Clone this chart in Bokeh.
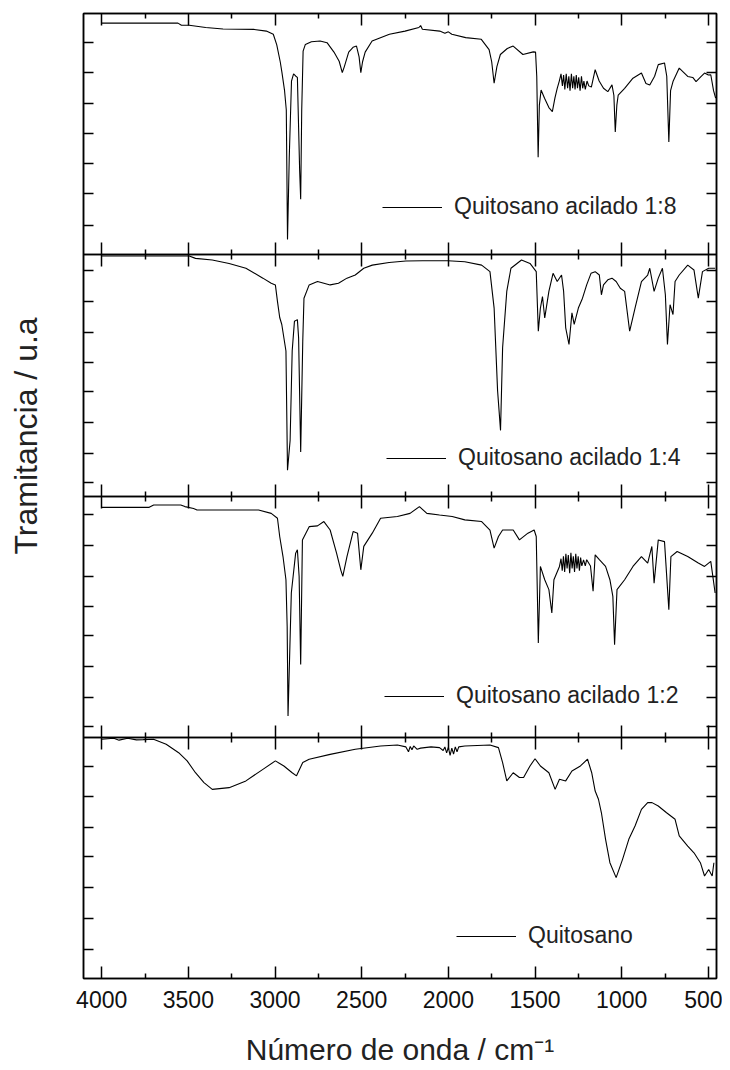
import numpy as np
from bokeh.plotting import figure
from bokeh.models import Range1d, LinearAxis, FixedTicker, Legend, LegendItem
from bokeh.embed import file_html
from bokeh.resources import INLINE

# ---------------- data (wavenumber cm-1, transmittance in % of panel) -------------
labels = ["Quitosano acilado 1:8", "Quitosano acilado 1:4",
          "Quitosano acilado 1:2", "Quitosano"]

x18 = [4000, 3560, 3540, 3495, 3400, 3300, 3120, 3050, 3010, 2990, 2970, 2960, 2945, 2935, 2928,
       2918, 2905, 2893, 2880, 2871, 2858, 2852, 2846, 2838, 2825, 2790, 2740, 2700, 2660, 2630,
       2612, 2600, 2575, 2550, 2530, 2515, 2505, 2495, 2480, 2440, 2340, 2250, 2170, 2160, 2150,
       2050, 2020, 2000, 1980, 1900, 1810, 1765, 1750, 1736, 1720, 1700, 1660, 1626, 1570, 1510,
       1497, 1490, 1482, 1475, 1465, 1445, 1420, 1400, 1385, 1372, 1360, 1350, 1342, 1335, 1328,
       1320, 1312, 1305, 1298, 1290, 1283, 1276, 1269, 1262, 1255, 1248, 1240, 1232, 1225, 1218,
       1210, 1200, 1190, 1175, 1153, 1130, 1105, 1080, 1056, 1045, 1037, 1028, 1020, 983, 935,
       886, 860, 838, 810, 789, 753, 740, 728, 718, 704, 668, 619, 590, 571, 540, 522, 500, 486,
       470, 458]
y18 = [96.0, 96.0, 95.1, 95.1, 94.2, 93.6, 93.4, 92.7, 91.4, 87.0, 80.0, 75.5, 68.0, 60.0, 6.3,
       40.0, 72.0, 75.0, 74.0, 73.5, 35.0, 23.0, 60.0, 84.4, 87.2, 88.3, 88.6, 87.9, 84.0, 80.2,
       75.5, 78.0, 84.0, 86.0, 86.5, 82.0, 75.5, 80.0, 84.0, 88.6, 91.4, 92.7, 94.2, 95.0, 93.5,
       92.7, 91.8, 92.4, 91.4, 90.0, 89.3, 85.0, 80.0, 71.1, 78.0, 83.0, 85.5, 86.5, 83.0, 84.1,
       84.0, 74.0, 40.4, 62.0, 68.3, 64.9, 61.0, 59.3, 65.0, 69.0, 72.0, 75.0, 70.0, 74.5, 68.5,
       75.0, 69.0, 74.0, 68.0, 75.0, 69.0, 74.0, 68.5, 74.5, 69.0, 73.5, 68.0, 74.0, 69.0, 72.0,
       68.5, 72.0, 70.0, 69.5, 76.7, 72.0, 69.0, 67.6, 70.4, 66.0, 50.9, 62.0, 66.2, 69.0, 73.2,
       75.3, 71.0, 70.4, 74.0, 78.8, 79.5, 74.0, 46.7, 68.0, 71.8, 77.4, 73.9, 73.5, 71.8, 74.0,
       75.3, 74.5, 74.6, 68.0, 64.9]

x14 = [4000, 3495, 3459, 3362, 3265, 3168, 3070, 3022, 2998, 2986, 2973, 2961, 2937, 2928, 2913,
       2901, 2888, 2871, 2864, 2852, 2840, 2833, 2803, 2755, 2718, 2682, 2634, 2585, 2537, 2488,
       2439, 2342, 2245, 2148, 2003, 1905, 1808, 1760, 1736, 1716, 1699, 1687, 1663, 1639, 1578,
       1529, 1493, 1481, 1469, 1457, 1444, 1420, 1396, 1372, 1347, 1335, 1323, 1304, 1287, 1274,
       1250, 1226, 1202, 1177, 1153, 1129, 1117, 1105, 1080, 1056, 1032, 1008, 983, 954, 923,
       886, 850, 838, 813, 789, 765, 748, 736, 721, 704, 692, 668, 619, 583, 558, 534, 498, 461]
y14 = [99.5, 99.5, 98.5, 97.8, 96.4, 94.4, 90.3, 88.2, 87.5, 80.7, 74.0, 71.1, 60.1, 10.7, 23.0,
       60.1, 72.4, 73.1, 65.6, 18.2, 64.2, 82.0, 87.5, 88.9, 88.2, 87.5, 88.2, 90.3, 91.6, 94.4,
       95.7, 96.8, 97.4, 97.5, 97.5, 97.1, 95.7, 93.0, 77.9, 43.6, 27.2, 61.5, 84.8, 94.4, 97.8,
       96.4, 93.0, 68.3, 77.9, 82.7, 73.8, 84.8, 92.3, 88.9, 91.6, 84.8, 69.7, 62.8, 75.9, 71.1,
       77.9, 82.0, 87.5, 92.3, 93.0, 91.6, 83.4, 87.5, 89.6, 90.3, 88.9, 86.1, 84.8, 68.3, 77.9,
       88.9, 91.6, 94.4, 84.8, 90.3, 94.4, 83.4, 62.8, 79.3, 75.2, 88.9, 91.6, 95.7, 93.7, 82.0,
       93.0, 94.4, 94.4]

x12 = [4000, 3726, 3700, 3544, 3520, 3470, 3450, 3095, 3022, 2986, 2973, 2954, 2937, 2930, 2925,
       2906, 2881, 2871, 2861, 2852, 2842, 2803, 2755, 2718, 2682, 2645, 2621, 2609, 2585, 2549,
       2524, 2505, 2488, 2439, 2391, 2294, 2221, 2167, 2124, 2051, 1978, 1905, 1808, 1760, 1736,
       1711, 1687, 1626, 1590, 1541, 1505, 1493, 1481, 1469, 1444, 1420, 1403, 1391, 1359, 1350,
       1343, 1336, 1329, 1322, 1315, 1308, 1300, 1293, 1286, 1279, 1272, 1265, 1258, 1251, 1244,
       1237, 1230, 1220, 1210, 1202, 1180, 1165, 1153, 1129, 1093, 1068, 1051, 1041, 1027, 983,
       935, 886, 850, 826, 813, 789, 753, 728, 716, 680, 619, 558, 522, 486, 461]
y12 = [95.3, 95.3, 96.3, 96.3, 95.6, 94.8, 94.2, 94.2, 92.8, 90.8, 83.2, 74.9, 65.3, 46.0, 8.8,
       59.8, 76.3, 77.7, 66.7, 30.2, 81.8, 87.3, 87.6, 89.4, 85.9, 76.3, 69.4, 66.7, 74.9, 85.3,
       84.6, 69.4, 79.1, 84.6, 90.8, 91.5, 92.8, 95.6, 92.8, 92.1, 91.5, 90.1, 89.4, 85.9, 78.4,
       83.2, 85.9, 85.9, 81.8, 84.6, 85.9, 83.2, 39.1, 70.8, 65.3, 61.2, 51.5, 65.3, 70.8, 74.0,
       69.0, 75.0, 68.5, 76.0, 70.0, 75.5, 68.0, 76.5, 70.0, 75.0, 68.5, 76.0, 70.0, 75.0, 69.0,
       74.5, 71.0, 73.5, 71.0, 73.6, 71.0, 60.5, 75.6, 73.6, 70.8, 65.3, 58.4, 38.4, 61.2, 65.3,
       70.8, 74.9, 72.2, 79.1, 63.9, 81.8, 81.1, 52.9, 74.9, 77.0, 74.9, 72.2, 70.8, 72.9, 59.8]

x0 = [4000, 3930, 3900, 3850, 3800, 3760, 3701, 3628, 3556, 3507, 3459, 3410, 3362, 3265, 3168,
      3070, 2998, 2949, 2901, 2876, 2840, 2803, 2682, 2537, 2391, 2294, 2245, 2230, 2220, 2210,
      2200, 2180, 2160, 2100, 2051, 2030, 2020, 2010, 2000, 1990, 1980, 1970, 1960, 1950, 1940,
      1905, 1760, 1711, 1687, 1663, 1626, 1590, 1566, 1529, 1500, 1469, 1420, 1384, 1359, 1323,
      1287, 1238, 1197, 1173, 1153, 1134, 1117, 1093, 1068, 1032, 995, 959, 923, 886, 850, 825,
      789, 741, 692, 668, 619, 583, 546, 522, 498, 478, 468]
y0 = [99.2, 99.6, 98.8, 99.6, 98.9, 99.0, 99.2, 97.1, 93.6, 90.2, 85.3, 81.2, 78.4, 79.1, 81.9,
      86.7, 90.2, 88.1, 85.3, 84.0, 89.5, 90.9, 92.9, 95.0, 96.4, 96.8, 96.0, 94.0, 96.2, 94.8,
      96.4, 95.0, 95.5, 96.0, 95.7, 94.5, 96.0, 93.5, 95.8, 92.5, 95.5, 93.0, 96.0, 94.0, 96.0,
      96.4, 96.8, 95.7, 89.5, 81.9, 85.3, 83.3, 83.3, 88.1, 91.1, 88.1, 85.3, 78.4, 82.6, 81.9,
      86.0, 88.1, 90.9, 85.3, 77.7, 74.3, 68.7, 57.7, 48.0, 41.8, 49.4, 57.7, 63.2, 70.1, 72.9,
      72.9, 71.5, 68.7, 66.0, 59.1, 54.9, 52.1, 48.0, 42.5, 45.2, 42.5, 48.0]

x_major = [4000, 3500, 3000, 2500, 2000, 1500, 1000, 500]
x_minor = [3750, 3250, 2750, 2250, 1750, 1250, 750]

# y tick positions inside each panel (fraction of panel height, from panel bottom)
yt_18 = [0.881, 0.757, 0.627, 0.503, 0.379, 0.255, 0.122]
yt_14 = [0.936, 0.807, 0.679, 0.555, 0.435, 0.306, 0.178, 0.054]
yt_12 = [0.925, 0.793, 0.665, 0.540, 0.420, 0.292, 0.164, 0.043]
yt_0 = [0.878, 0.754, 0.625, 0.505, 0.377, 0.248, 0.120]

series = [(x18, y18, yt_18), (x14, y14, yt_14), (x12, y12, yt_12), (x0, y0, yt_0)]
offsets = [3, 2, 1, 0]
boundaries = [1, 2, 3]

# legend placement (screen px from frame bottom-left)
legend_locs = [(299, 758), (303, 507), (301, 269), (373, 29)]

FONT = "Liberation Sans"
W, H = 722, 1068
y_title = "Tramitancia / u.a"

p = figure(width=W, height=H, x_range=Range1d(4105, 453), y_range=Range1d(0, 4),
           x_axis_type=None, y_axis_type=None, output_backend="svg",
           toolbar_location=None, min_border_left=83, min_border_right=6,
           min_border_top=13, min_border_bottom=0,
           title=y_title, title_location="left")
p.outline_line_color = "black"
p.outline_line_width = 1.5
p.background_fill_color = "white"
p.border_fill_color = "white"

# y-axis title: the reference places it above the middle of the stack,
# so it is drawn as a left-side title starting 424 px above the frame bottom
p.title.align = "left"
p.title.offset = 424
p.title.vertical_align = "middle"
p.title.standoff = 10
p.title.text_font = FONT
p.title.text_font_size = "32px"
p.title.text_font_style = "normal"
p.title.text_color = "#222222"

xt = FixedTicker(ticks=x_major, minor_ticks=x_minor)

def style_common(ax):
    ax.axis_line_color = "black"
    ax.axis_line_width = 1.5
    ax.major_tick_line_color = "black"
    ax.major_tick_line_width = 1.5
    ax.minor_tick_line_color = "black"
    ax.minor_tick_line_width = 1.5

def no_labels(ax):
    ax.major_label_text_font_size = "0px"
    ax.major_label_text_color = None
    ax.major_label_standoff = 0
    ax.axis_label_standoff = 0

# main bottom axis with labels
bx = LinearAxis(ticker=xt, axis_label="Número de onda / cm⁻¹")
style_common(bx)
bx.major_tick_in = 12
bx.major_tick_out = 0
bx.minor_tick_in = 5
bx.minor_tick_out = 0
bx.major_label_text_font = FONT
bx.major_label_text_font_size = "23px"
bx.major_label_text_color = "#111111"
bx.major_label_standoff = 12
bx.axis_label_text_font = FONT
bx.axis_label_text_font_size = "30px"
bx.axis_label_text_font_style = "normal"
bx.axis_label_text_color = "#222222"
bx.axis_label_standoff = 22
p.add_layout(bx, "below")

def bare_x(loc, side):
    ax = LinearAxis(ticker=xt, fixed_location=loc)
    style_common(ax)
    ax.major_tick_in = 12
    ax.major_tick_out = 0
    ax.minor_tick_in = 5
    ax.minor_tick_out = 0
    no_labels(ax)
    p.add_layout(ax, side)

bare_x(None, "above")
for b in boundaries:
    bare_x(b, "below")
    bare_x(b, "above")

y_ticks = []
for (xs, ys, yts), off in zip(series, offsets):
    y_ticks += [off + t for t in yts]
yt = FixedTicker(ticks=sorted(y_ticks), minor_ticks=[])

for side in ("left", "right"):
    ax = LinearAxis(ticker=yt)
    style_common(ax)
    ax.major_tick_in = 10
    ax.major_tick_out = 0
    ax.minor_tick_in = 0
    ax.minor_tick_out = 0
    no_labels(ax)
    if side == "left":
        # undrawn axis label used only as spacing, pushing the title outward
        ax.axis_label = "u.a"
        ax.axis_label_text_font_size = "1px"
        ax.axis_label_text_color = None
        ax.axis_label_standoff = 30
    p.add_layout(ax, side)

for (xs, ys, yts), off, lab, loc in zip(series, offsets, labels, legend_locs):
    yy = off + np.array(ys) / 100.0
    r = p.line(np.array(xs), yy, line_color="black", line_width=1.1)
    leg = Legend(items=[LegendItem(label=lab, renderers=[r])], location=loc,
                 border_line_color=None, background_fill_alpha=0, padding=0, margin=0,
                 glyph_width=60, glyph_height=24, label_height=24, label_standoff=12,
                 label_text_font=FONT, label_text_font_size="23px",
                 label_text_color="#222222")
    p.add_layout(leg, "center")

open("out.html", "w").write(file_html(p, INLINE))
